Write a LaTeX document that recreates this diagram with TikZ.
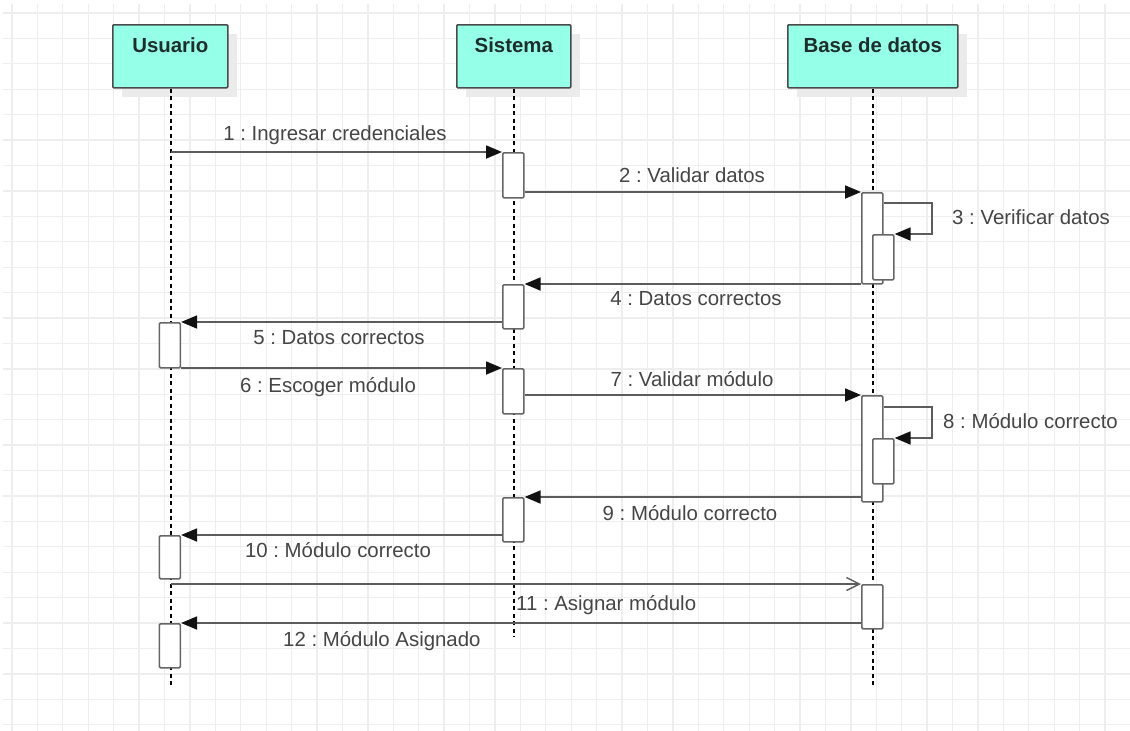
\documentclass[tikz,border=0pt]{standalone}
\usepackage{fontspec}
\setmainfont{Liberation Sans}
\usetikzlibrary{arrows.meta,calc}
\frenchspacing
\definecolor{gridc}{HTML}{EEEEEE}
\definecolor{headfill}{HTML}{96FFE8}
\definecolor{headdraw}{HTML}{4A4A4A}
\definecolor{shadowc}{HTML}{EBEBEB}
\definecolor{linec}{HTML}{5C5C5C}
\definecolor{actc}{HTML}{666666}
\definecolor{txtc}{HTML}{454545}
\definecolor{headtxt}{HTML}{1E2E2A}
\definecolor{tipc}{HTML}{111111}
\tikzset{
  headbox/.style={draw=headdraw, fill=headfill, line width=1.6pt, rounded corners=1pt,
    minimum width=#1, minimum height=63pt, anchor=north west, inner sep=0pt},
  headshadow/.style={fill=shadowc, draw=none},
  headlabel/.style={font=\fontsize{20.4}{24}\selectfont\bfseries, text=headtxt, inner sep=0pt, anchor=center},
  lifeline/.style={draw=black, line width=1.1pt, dash pattern=on 4pt off 3.5pt},
  actbox/.style={draw=actc, fill=white, line width=1.6pt, rounded corners=1.2pt,
    minimum width=21pt, minimum height=#1, anchor=north west, inner sep=0pt},
  msg/.style={draw=linec, line width=1.8pt, -{Triangle[length=16pt,width=13pt,color=tipc]}},
  msgopen/.style={draw=linec, line width=1.8pt, -{Straight Barb[length=13pt,width=13pt,line width=1.4pt]}},
  msglabel/.style={font=\fontsize{20.4}{24}\selectfont, text=txtc, inner sep=0pt},
}
\begin{document}
\begin{tikzpicture}[x=1pt,y=-1pt]
\useasboundingbox (0,0) rectangle (1130,731);
\fill[white] (0,0) rectangle (1130,731);
% grid
\foreach \i in {0,...,43} {\draw[gridc, line width=1.3pt] ({12+25.42*\i},4) -- ({12+25.42*\i},731);}
\foreach \j in {0,...,28} {\draw[gridc, line width=1.3pt] (3,{13+25.42*\j}) -- (1130,{13+25.42*\j});}
% shadows
\fill[headshadow] (122,34) rectangle (237,97);
\fill[headshadow] (466,34) rectangle (580,97);
\fill[headshadow] (797,34) rectangle (967,97);
% header boxes
\node[headbox=115pt] (usr) at (112,24) {};
\node[headbox=114pt] (sis) at (456,24) {};
\node[headbox=170pt] (bd) at (787,24) {};
\node[headlabel] (usrT) at ($(usr.north)+(0,21)$) {Usuario};
\node[headlabel] (sisT) at ($(sis.north)+(0,21)$) {Sistema};
\node[headlabel] (bdT) at ($(bd.north)+(0,21)$) {Base de datos};
% lifeline ends
\coordinate (usrE) at (171,685);
\coordinate (sisE) at (514,637);
\coordinate (bdE) at (873,685);
\draw[lifeline] (usr.south -| usrE) -- (usrE);
\draw[lifeline] (sis.south -| sisE) -- (sisE);
\draw[lifeline] (bd.south -| bdE) -- (bdE);
% activations
\node[actbox=45pt] (s1) at (502,152) {};
\node[actbox=44pt] (s2) at (502,284) {};
\node[actbox=45pt] (s3) at (502,368) {};
\node[actbox=44pt] (s4) at (502,497) {};
\node[actbox=45pt] (u1) at (158.5,322) {};
\node[actbox=43pt] (u2) at (158.5,535) {};
\node[actbox=44pt] (u3) at (158.5,623) {};
\node[actbox=91pt] (b1) at (861,192) {};
\node[actbox=106pt] (b2) at (861,395) {};
\node[actbox=44pt] (b3) at (861,584) {};
\node[actbox=45pt] (b1n) at (872,234) {};
\node[actbox=45pt] (b2n) at (872,438) {};
% messages
\draw[msg] (s1.north west -| usrE) -- (s1.north west);
\draw[msg] (b1.north west -| s1.east) -- (b1.north west);
\draw[msg] ($(b1.north east)+(0,11)$) -| ($(b1n.north east)+(37,0)$) -- (b1n.north east);
\draw[msg] (s2.north east -| b1.west) -- (s2.north east);
\draw[msg] (u1.north east -| s2.west) -- (u1.north east);
\draw[msg] (s3.north west -| u1.east) -- (s3.north west);
\draw[msg] (b2.north west -| s3.east) -- (b2.north west);
\draw[msg] ($(b2.north east)+(0,12)$) -| ($(b2n.north east)+(37,0)$) -- (b2n.north east);
\draw[msg] (s4.north east -| b2.west) -- (s4.north east);
\draw[msg] (u2.north east -| s4.west) -- (u2.north east);
\draw[msgopen] (b3.north west -| usrE) -- (b3.north west);
\draw[msg] (u3.north east -| b3.west) -- (u3.north east);
% labels
\node[msglabel] (l1) at (335,135) {1 : Ingresar credenciales};
\node[msglabel] (l2) at (692,175) {2 : Validar datos};
\node[msglabel, anchor=west] (l3) at (952,217) {3 : Verificar datos};
\node[msglabel] (l4) at (696,299) {4 : Datos correctos};
\node[msglabel] (l5) at (339,338) {5 : Datos correctos};
\node[msglabel] (l6) at (328,387) {6 : Escoger módulo};
\node[msglabel] (l7) at (692,379) {7 : Validar módulo};
\node[msglabel, anchor=west] (l8) at (943,421) {8 : Módulo correcto};
\node[msglabel] (l9) at (690,513) {9 : Módulo correcto};
\node[msglabel] (l10) at (338,550) {10 : Módulo correcto};
\node[msglabel, anchor=west] (l11) at (516,605) {11 : Asignar módulo};
\node[msglabel, anchor=west] (l12) at (283,641) {12 : Módulo Asignado};
\end{tikzpicture}
\end{document}
